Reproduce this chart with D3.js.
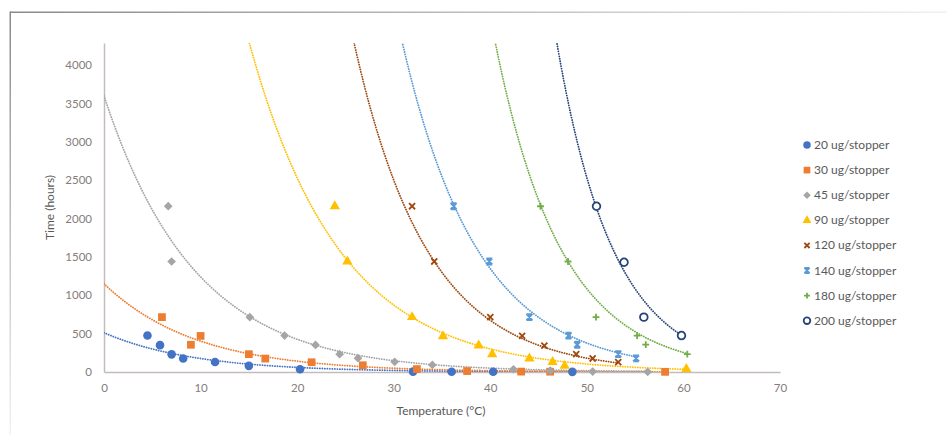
<!DOCTYPE html>
<html>
  <head>
    <title>Time vs temperature</title>
    <script src="https://d3js.org/d3.v7.min.js"></script>
    <style>
    body { margin: 0; background-color: #ffffff; }
    text { font-family: Lato, "Open Sans", sans-serif; }
    </style>
  </head>
  <body>
<script>
// categories
var seriesNames = ["20 ug/stopper", "30 ug/stopper", "45 ug/stopper", "90 ug/stopper",
                   "120 ug/stopper", "140 ug/stopper", "180 ug/stopper", "200 ug/stopper"];

var s20 = [[4.5,475],[5.8,350],[7.0,230],[8.2,176],[11.5,130],[15.0,80],[20.3,36],[32.0,5],[36.0,4],[40.3,3],[48.5,2]];
var s30 = [[6.0,715],[9.0,355],[10.0,470],[15.0,232],[16.7,175],[21.5,127],[26.8,88],[32.4,38],[37.6,12],[43.2,5],[46.2,4],[58.1,2]];
var s45 = [[6.65,2160],[7.0,1440],[15.1,715],[18.7,475],[21.9,352],[24.4,232],[26.3,180],[30.1,132],[34.0,92],[42.4,36],[46.2,17],[50.6,5],[56.3,3]];
var s90 = [[23.9,2160],[25.2,1440],[31.9,715],[35.1,465],[38.8,345],[40.2,232],[44.05,176],[46.45,130],[47.7,80],[60.3,40]];
var s120 = [[31.9,2160],[34.2,1440],[40.0,715],[43.3,470],[45.6,345],[48.9,232],[50.6,176],[53.25,130]];
var s140 = [[36.2,2160],[39.9,1440],[44.05,715],[48.1,475],[49.0,355],[53.25,232],[55.1,178]];
var s180 = [[45.2,2160],[48.05,1440],[50.95,715],[55.2,475],[56.1,356],[60.4,234]];
var s200 = [[51.0,2160],[53.85,1430],[55.9,715],[59.8,475]];
var seriesPoints = [s20, s30, s45, s90, s120, s140, s180, s200];

// exponential trendlines y = a * exp(b * x), parameters
var trendA = [512, 1150, 3600, 21300, 128900, 219100, 1535000, 12320000];
var trendB = [-0.107, -0.105, -0.1066, -0.1065, -0.1314, -0.1273, -0.1451, -0.1698];

// tick labels
var xTicks = [0, 10, 20, 30, 40, 50, 60, 70];
var yTicks = [0, 500, 1000, 1500, 2000, 2500, 3000, 3500, 4000];

var colors = ["#4472C4", "#ED7D31", "#A5A5A5", "#FFC000", "#9E480E", "#5B9BD5", "#70AD47", "#264478"];

var w = 947, h = 435;
var plotLeft = 104, plotRight = 780, plotTop = 43, plotBottom = 372;

var svg = d3.select("body").append("svg")
  .attr("width", w)
  .attr("height", h);

// faded chart frame, top and left edges only
var defs = svg.append("defs");
var gTop = defs.append("linearGradient").attr("id", "fadeX");
gTop.append("stop").attr("offset", "0%").attr("stop-color", "#8a8a8a");
gTop.append("stop").attr("offset", "100%").attr("stop-color", "#f0f0f0");
var gLeft = defs.append("linearGradient").attr("id", "fadeY")
  .attr("x1", 0).attr("y1", 0).attr("x2", 0).attr("y2", 1);
gLeft.append("stop").attr("offset", "0%").attr("stop-color", "#8a8a8a");
gLeft.append("stop").attr("offset", "100%").attr("stop-color", "#f2f2f2");
svg.append("rect").attr("x", 10).attr("y", 11.5).attr("width", 937).attr("height", 1.5).attr("fill", "url(#fadeX)");
svg.append("rect").attr("x", 9.5).attr("y", 11.5).attr("width", 1.5).attr("height", 424).attr("fill", "url(#fadeY)");

defs.append("clipPath").attr("id", "plot")
  .append("rect").attr("x", plotLeft).attr("y", plotTop)
  .attr("width", plotRight - plotLeft).attr("height", plotBottom - plotTop);

var x = d3.scaleLinear().domain([0, 70]).range([plotLeft, plotRight]);
var y = d3.scaleLinear().domain([0, 4287]).range([plotBottom, plotTop]);

// axes
var xAxis = svg.append("g")
  .attr("transform", "translate(0," + plotBottom + ")")
  .call(d3.axisBottom(x).tickValues(xTicks).tickSize(0).tickPadding(12));
var yAxis = svg.append("g")
  .attr("transform", "translate(" + plotLeft + ",0)")
  .call(d3.axisLeft(y).tickValues(yTicks).tickSize(0).tickPadding(12).tickFormat(d3.format("d")));
[xAxis, yAxis].forEach(function(a) {
  a.select(".domain").attr("stroke", "#c4bcbc").attr("stroke-width", 1.5);
  a.selectAll("text").attr("fill", "#857c7c").style("font-size", "11.5px");
});

svg.append("text")
  .attr("transform", "translate(54," + ((plotTop + plotBottom) / 2) + ") rotate(-90)")
  .attr("text-anchor", "middle")
  .attr("fill", "#595959")
  .style("font-size", "12px")
  .text("Time (hours)");
svg.append("text")
  .attr("x", 441).attr("y", 415)
  .attr("text-anchor", "middle")
  .attr("fill", "#595959")
  .style("font-size", "12px")
  .text("Temperature (°C)");

// marker shapes
var diamond = { draw: function(c, s) { var r = Math.sqrt(s) / 1.45; c.moveTo(0, -r); c.lineTo(r, 0); c.lineTo(0, r); c.lineTo(-r, 0); c.closePath(); } };
var cross = { draw: function(c, s) { var r = Math.sqrt(s) / 2.4; c.moveTo(-r, -r); c.lineTo(r, r); c.moveTo(r, -r); c.lineTo(-r, r); } };
var star = { draw: function(c, s) { var r = Math.sqrt(s) / 2.4; c.moveTo(-r, -r); c.lineTo(r, r); c.moveTo(r, -r); c.lineTo(-r, r); c.moveTo(0, -r * 1.2); c.lineTo(0, r * 1.2); c.moveTo(-r, -r); c.lineTo(r, -r); c.moveTo(-r, r); c.lineTo(r, r); } };
var plus = { draw: function(c, s) { var r = Math.sqrt(s) / 2.2; c.moveTo(-r, 0); c.lineTo(r, 0); c.moveTo(0, -r); c.lineTo(0, r); } };
var shapes = [d3.symbolCircle, d3.symbolSquare, diamond, d3.symbolTriangle, cross, star, plus, d3.symbolCircle];
var sizes = [58, 60, 40, 46, 52, 52, 56, 46];
var filled = [true, true, true, true, false, false, false, false];

function styleMarker(sel, i) {
  if (filled[i]) {
    sel.attr("fill", colors[i]).attr("stroke", "none");
  } else {
    sel.attr("fill", i == 7 ? "#ffffff" : "none").attr("stroke", colors[i]).attr("stroke-width", 1.8);
  }
}

// trendlines
var line = d3.line()
  .x(function(d) { return x(d[0]); })
  .y(function(d) { return y(d[1]); });
var layerTrend = svg.append("g").attr("clip-path", "url(#plot)");
seriesPoints.forEach(function(pts, i) {
  var maxT = d3.max(pts, function(d) { return d[0]; });
  var curve = d3.range(0, maxT, 0.2).concat([maxT]).map(function(t) {
    return [t, trendA[i] * Math.exp(trendB[i] * t)];
  }).filter(function(d) { return d[1] < 6000; });
  layerTrend.append("path")
    .attr("d", line(curve))
    .attr("fill", "none")
    .attr("stroke", colors[i])
    .attr("stroke-width", 1.8)
    .attr("stroke-linecap", "round")
    .attr("stroke-dasharray", "0.1,2.4");
});

// points
var layerPts = svg.append("g");
seriesPoints.forEach(function(pts, i) {
  layerPts.selectAll(".p" + i)
    .data(pts)
    .enter()
    .append("path")
    .attr("class", "p" + i)
    .attr("d", d3.symbol().type(shapes[i]).size(sizes[i]))
    .attr("transform", function(d) { return "translate(" + x(d[0]) + "," + y(d[1]) + ")"; })
    .call(styleMarker, i);
});

// legend
var legend = svg.append("g").attr("transform", "translate(807,145)");
seriesNames.forEach(function(name, i) {
  var row = legend.append("g").attr("transform", "translate(0," + (i * 25.1) + ")");
  row.append("path")
    .attr("d", d3.symbol().type(shapes[i]).size(sizes[i] * 0.75))
    .call(styleMarker, i);
  row.append("text")
    .attr("x", 7).attr("y", 4)
    .attr("fill", "#595959")
    .style("font-size", "12px")
    .text(name);
});
</script>
  </body>
</html>
